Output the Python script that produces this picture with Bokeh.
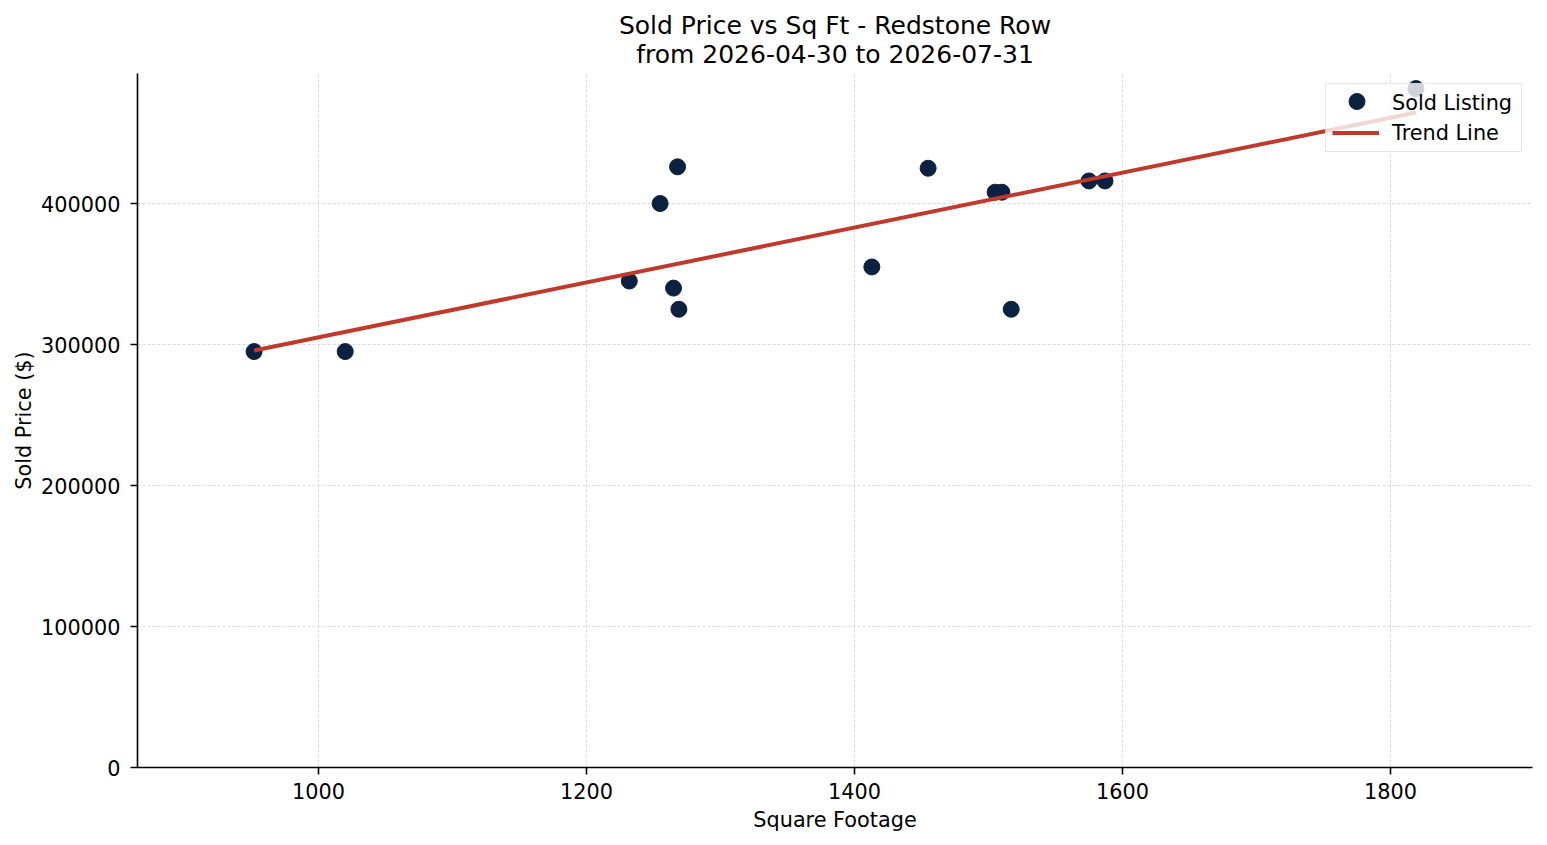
from bokeh.plotting import figure
from bokeh.models import (Title, SingleIntervalTicker, NumeralTickFormatter,
                          Range1d, ColumnDataSource, Legend, LegendItem)
from bokeh.embed import file_html
from bokeh.resources import INLINE

# ---- data ----
sqft = [952, 1020, 1232, 1255, 1268, 1265, 1269, 1413, 1455, 1505, 1510, 1517, 1575, 1587, 1819]
price = [295000, 295000, 345000, 400000, 426000, 340000, 325000, 355000, 425000, 408000, 408000, 325000, 416000, 416000, 481500]
trend_x = [952, 1819]
trend_y = [295700, 464500]

title_main = "Sold Price vs Sq Ft - Redstone Row"
title_sub = "from 2026-04-30 to 2026-07-31"

FONT = "DejaVu Sans"
NAVY = "#0a2140"
RED = "#c0392b"
FS = "20.8px"

p = figure(width=1539, height=837, output_backend="svg", toolbar_location=None,
           x_range=Range1d(865, 1906), y_range=Range1d(0, 492200),
           min_border_left=137, min_border_right=7, min_border_top=73, min_border_bottom=70)
p.title = None
p.outline_line_color = None
p.background_fill_color = "white"
p.border_fill_color = "white"

# two-line title: spacer first (closest to the frame), then lower line, then upper line
p.add_layout(Title(text=" ", text_font=FONT, text_font_size="4.5px", standoff=0, offset=0), "above")
for txt, so in ((title_sub, -4), (title_main, -1)):
    t = Title(text=txt, align="center", text_font=FONT, text_font_size="25px",
              text_font_style="normal", text_color="black", standoff=so, offset=0)
    p.add_layout(t, "above")

src = ColumnDataSource(dict(x=sqft, y=price))
r_sc = p.scatter("x", "y", source=src, size=16, fill_color=NAVY, line_color=NAVY)
r_ln = p.line(trend_x, trend_y, line_color=RED, line_width=4)

# axes
p.xaxis.ticker = SingleIntervalTicker(interval=200, num_minor_ticks=0)
p.yaxis.ticker = SingleIntervalTicker(interval=100000, num_minor_ticks=0)
p.yaxis.formatter = NumeralTickFormatter(format="0")
for ax in (p.xaxis[0], p.yaxis[0]):
    ax.axis_line_color = "black"
    ax.axis_line_width = 1.6
    ax.major_tick_line_color = "black"
    ax.major_tick_line_width = 1.6
    ax.major_tick_out = 7
    ax.major_tick_in = 0
    ax.minor_tick_out = 0
    ax.minor_tick_in = 0
    ax.major_label_text_font = FONT
    ax.major_label_text_font_size = FS
    ax.major_label_text_color = "black"
    ax.axis_label_text_font = FONT
    ax.axis_label_text_font_size = FS
    ax.axis_label_text_font_style = "normal"
    ax.axis_label_text_color = "black"
p.xaxis.axis_label = "Square Footage"
p.yaxis.axis_label = "Sold Price ($)"
p.xaxis.major_label_standoff = 8
p.yaxis.major_label_standoff = 10
p.xaxis.axis_label_standoff = 6
p.yaxis.axis_label_standoff = 2

# grid
for g in (p.xgrid[0], p.ygrid[0]):
    g.grid_line_color = "#cfcfcf"
    g.grid_line_width = 0.8
    g.grid_line_dash = "3 2"

# main legend (box, labels, line sample)
lg = Legend(items=[LegendItem(label="Sold Listing", renderers=[r_sc]),
                   LegendItem(label="Trend Line", renderers=[r_ln])],
            location="top_right")
lg.label_text_font = FONT
lg.label_text_font_size = FS
lg.label_text_color = "black"
lg.background_fill_color = "white"
lg.background_fill_alpha = 0.8
lg.border_line_color = "#cccccc"
lg.border_line_width = 1.2
lg.padding = 6
lg.spacing = 5
lg.margin = 10
lg.label_height = 25
lg.glyph_height = 25
lg.glyph_width = 47
lg.label_standoff = 13
lg.label_width = 123
p.add_layout(lg)

# overlay legend only to draw the marker sample at full size
lg2 = Legend(items=[LegendItem(label=" ", renderers=[r_sc])], location="top_right")
lg2.background_fill_alpha = 0
lg2.border_line_alpha = 0
lg2.label_text_alpha = 0
lg2.label_text_font_size = FS
lg2.padding = 0
lg2.spacing = 0
lg2.margin = 8
lg2.label_height = 40
lg2.glyph_height = 40
lg2.glyph_width = 47
lg2.label_standoff = 13
lg2.label_width = 131
p.add_layout(lg2)

open("out.html", "w").write(file_html(p, INLINE))
